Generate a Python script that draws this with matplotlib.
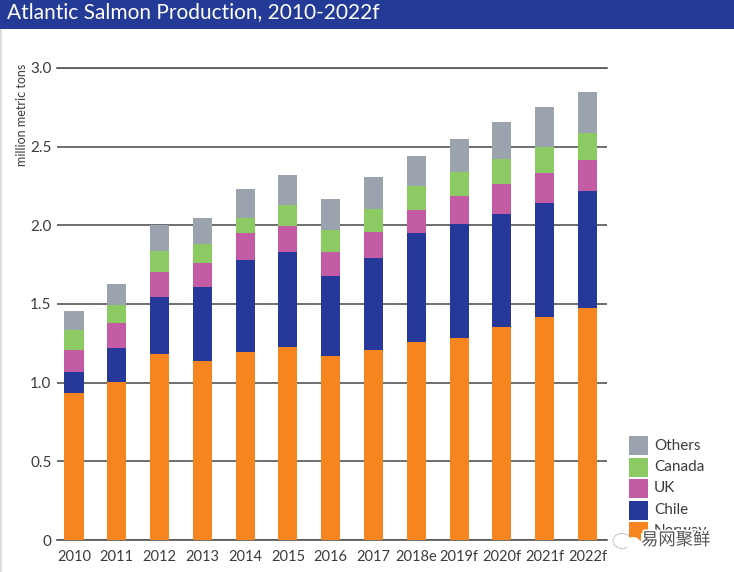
import matplotlib
matplotlib.use("Agg")
import matplotlib.pyplot as plt
from matplotlib.patches import Rectangle, Ellipse
import matplotlib.patheffects as pe
import numpy as np

W, H = 734, 572
years = ['2010','2011','2012','2013','2014','2015','2016','2017','2018e','2019f','2020f','2021f','2022f']
norway = [0.936,1.006,1.182,1.135,1.194,1.226,1.17,1.21,1.256,1.281,1.355,1.417,1.472]
chile  = [0.134,0.212,0.364,0.472,0.583,0.602,0.51,0.58,0.694,0.729,0.716,0.722,0.745]
uk     = [0.14,0.159,0.154,0.153,0.175,0.167,0.15,0.165,0.147,0.176,0.191,0.193,0.197]
canada = [0.124,0.116,0.138,0.123,0.092,0.133,0.14,0.145,0.152,0.152,0.158,0.168,0.169]
others = [0.121,0.135,0.162,0.161,0.186,0.192,0.195,0.208,0.188,0.212,0.238,0.249,0.265]
series = [('Norway',norway,'#F6851F'),('Chile',chile,'#26399A'),('UK',uk,'#C45BA5'),
          ('Canada',canada,'#8CCB63'),('Others',others,'#9AA3AE')]
yticks = [0,0.5,1.0,1.5,2.0,2.5,3.0]
ylabels = ['0','0.5','1.0','1.5','2.0','2.5','3.0']

FONT = 'Lato'
TXT = '#3c3c3c'
fig = plt.figure(figsize=(W/100, H/100), dpi=100, facecolor='white')
ax = fig.add_axes([57/W, 1-540/H, 550/W, 472.2/H])
x = np.arange(len(years))
bottom = np.zeros(len(years))
for name, vals, col in series:
    ax.bar(x, vals, width=0.445, bottom=bottom, color=col, zorder=3, linewidth=0)
    bottom += np.array(vals)
ax.set_xlim(-0.397, 12.456)
ax.set_ylim(0, 3.0)
ax.set_yticks(yticks)
ax.set_yticklabels(ylabels, fontsize=11, color=TXT, family=FONT)
ax.set_xticks(x)
ax.set_xticklabels(years, fontsize=10.5, color=TXT, family=FONT)
ax.tick_params(axis='x', length=0, pad=7)
ax.tick_params(axis='y', length=0, pad=4)
ax.grid(axis='y', color='#555555', linewidth=1.2, zorder=1)
ax.set_axisbelow(True)
for s in ax.spines.values():
    s.set_visible(False)
ax.axhline(3.0, color='#555555', lw=1.2, clip_on=False, zorder=1)
ax.axhline(0, color='#555555', lw=1.2, clip_on=False, zorder=1)

ov = fig.add_axes([0, 0, 1, 1], facecolor='none')
ov.set_xlim(0, W); ov.set_ylim(H, 0); ov.axis('off')
ov.add_patch(Rectangle((0, 0), W, 29, color='#233A96', lw=0))
ov.add_patch(Rectangle((0, 29), 1.5, H-29, color='#dddddd', lw=0))
ov.text(7, 12.5, 'Atlantic Salmon Production, 2010-2022f', color='white', fontsize=15,
        family=FONT, va='center', ha='left')
ov.text(22, 115, 'million metric tons', rotation=90, fontsize=9, color=TXT, family=FONT,
        va='center', ha='center')

legend_rows = [('Others',436,'#9AA3AE'),('Canada',457.5,'#8CCB63'),('UK',479,'#C45BA5'),
               ('Chile',500.5,'#26399A'),('Norway',522,'#F6851F')]
for name, y, col in legend_rows:
    ov.add_patch(Rectangle((628.5, y), 19, 19, color=col, lw=0))
    ov.text(654, y+9.5, name, fontsize=11, color=TXT, family=FONT, va='center', ha='left')

# watermark over the legend's last row
ov.add_patch(Ellipse((622, 541), 18, 15, fc='white', ec='#777777', lw=0.6, ls=(0, (1, 1))))
ov.add_patch(Ellipse((633, 543), 15, 12, fc='white', ec='none'))
ov.add_patch(Rectangle((641, 533), 72, 16, color='white', lw=0))
ov.text(641, 540, '易网聚鲜', fontsize=12.5, color='#555555', family='Noto Sans CJK SC',
        va='center', ha='left',
        path_effects=[pe.withStroke(linewidth=2.5, foreground='white')])
fig.savefig('out.png', dpi=100)
